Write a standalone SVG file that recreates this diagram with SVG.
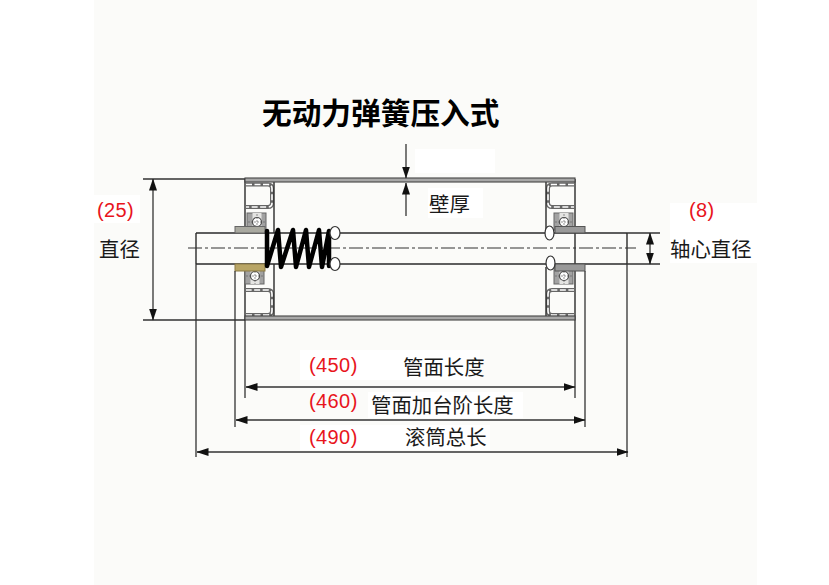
<svg xmlns="http://www.w3.org/2000/svg" xmlns:xlink="http://www.w3.org/1999/xlink" width="829" height="585" viewBox="0 0 829 585">
<style>
.ln{fill:none;stroke:#2b2b2b;stroke-width:1.4}
.tube{fill:#a8a8a8;stroke:#444;stroke-width:1.1}
.wall{fill:none;stroke:#666;stroke-width:4}
.hatch{fill:none;stroke:#fff;stroke-width:1.6;stroke-dasharray:6 2.500}
.cl{fill:none;stroke:#333;stroke-width:1.1;stroke-dasharray:14 3 3 3}
.dim{fill:none;stroke:#333;stroke-width:1.3}
.t{font-family:"Noto Sans CJK SC","Liberation Sans",sans-serif;font-size:20.400px;fill:#1a1a1a}
.r{font-family:"Liberation Sans","Noto Sans CJK SC",sans-serif;font-size:20px;fill:#e8141c;letter-spacing:.4px}
.b{font-family:"Noto Sans CJK SC",sans-serif;font-size:29.700px;font-weight:700;fill:#000}
.spring{fill:none;stroke:#000;stroke-width:4.500;stroke-linecap:round;stroke-linejoin:round}
</style>
<defs>
<marker id="ah" viewBox="0 0 12 8" refX="11.500" refY="4" markerWidth="12" markerHeight="8" markerUnits="userSpaceOnUse" orient="auto-start-reverse"><path d="M0 0L12 4L0 8z" fill="#111"/></marker>
<g id="bearing">
<rect x="-10" y="-9" width="19" height="17" fill="#a2a2a2" stroke="#666"/>
<rect x="-4.500" y="-9" width="9" height="17" fill="#e4e4e2"/>
<circle r="4.500" fill="#fff" stroke="#444" stroke-width="1.200"/>
<path d="M-9 0H9M0 -8V8" stroke="#666" stroke-width=".7" stroke-dasharray="2 1"/>
</g>
</defs>
<rect width="829" height="585" fill="#fff"/>
<rect x="94" y="0" width="663" height="585" fill="#fbfbf9"/>
<g id="label-patches" fill="#fff">
<rect x="415" y="149" width="80" height="24"/>
<rect x="428" y="188" width="55" height="30"/>
<rect x="94" y="195" width="46" height="28"/>
<rect x="670" y="203" width="87" height="60"/>
<rect x="300" y="350" width="180" height="30"/>
<rect x="368" y="392" width="155" height="26"/>
<rect x="300" y="425" width="190" height="25"/>
</g>
<g id="roller">
<path class="wall" d="M246 184.500H268Q272 184.500 272 188.500V203Q272 207 268 207H246"/>
<path class="hatch" d="M246 184.500H268Q272 184.500 272 188.500V203Q272 207 268 207H246"/>
<path class="wall" d="M246 315H268Q272 315 272 311V294Q272 290 268 290H246"/>
<path class="hatch" d="M246 315H268Q272 315 272 311V294Q272 290 268 290H246"/>
<path class="wall" d="M574 184.500H552Q548 184.500 548 188.500V203Q548 207 552 207H574"/>
<path class="hatch" d="M574 184.500H552Q548 184.500 548 188.500V203Q548 207 552 207H574"/>
<path class="wall" d="M574 315H552Q548 315 548 311V294Q548 290 552 290H574"/>
<path class="hatch" d="M574 315H552Q548 315 548 311V294Q548 290 552 290H574"/>
<path class="ln" d="M245 179V226M245 271V320M274 182V233M274 264V316M546 182V230M546 267V316M575 179V320"/>
<rect class="tube" x="245" y="178" width="330" height="4"/>
<rect class="tube" x="245" y="316" width="330" height="4"/>
</g>
<g id="bearings">
<use xlink:href="#bearing" href="#bearing" x="257" y="222"/>
<use xlink:href="#bearing" href="#bearing" x="255" y="276"/>
<use xlink:href="#bearing" href="#bearing" x="564" y="222"/>
<use xlink:href="#bearing" href="#bearing" x="564" y="276"/>
</g>
<g id="shaft">
<path class="ln" d="M196 233H627M196 264H627M196 233V264M627 233V264"/>
<path class="cl" d="M188 248H636"/>
<rect x="235" y="226.500" width="30" height="6.500" fill="#a9a9a0" stroke="#666"/>
<rect x="235" y="264" width="30" height="7" fill="#b8a566" stroke="#8b7a45"/>
<rect x="555" y="226.500" width="30" height="6.500" fill="#999" stroke="#555"/>
<rect x="555" y="264" width="30" height="7" fill="#999" stroke="#555"/>
</g>
<g id="spring">
<path class="spring" d="M267 231V266L278 230L281 267L293 230L296 267L306 230L309 267L319 230L322 267L329 231V266"/>
</g>
<g id="retainers" fill="#fff" stroke="#333" stroke-width="1.200">
<ellipse cx="335" cy="233" rx="5" ry="6.500"/>
<ellipse cx="335" cy="264" rx="5" ry="6.500"/>
<ellipse cx="549.500" cy="233" rx="4.500" ry="7"/>
<ellipse cx="550.500" cy="263" rx="4.500" ry="7"/>
</g>
<g id="connectors">
<path class="dim" d="M143 179H245M143 320H245"/>
<path class="dim" d="M153 179V320" marker-start="url(#ah)" marker-end="url(#ah)"/>
<path class="dim" d="M627 233H660M627 264H660"/>
<path class="dim" d="M650 233V264" marker-start="url(#ah)" marker-end="url(#ah)"/>
<path class="dim" d="M406 144V178" marker-end="url(#ah)"/>
<path class="dim" d="M406 216V183" marker-end="url(#ah)"/>
<path class="dim" d="M196 264V457M235 271V427M245 320V398M575 320V398M585 271V427M627 264V457"/>
<path class="dim" d="M246 387H575" marker-start="url(#ah)" marker-end="url(#ah)"/>
<path class="dim" d="M236 420H585" marker-start="url(#ah)" marker-end="url(#ah)"/>
<path class="dim" d="M197 452H628" marker-start="url(#ah)" marker-end="url(#ah)"/>
</g>
<g id="labels">
<text class="b" x="262" y="124">无动力弹簧压入式</text>
<text class="t" x="429" y="212">壁厚</text>
<text class="t" x="99" y="257">直径</text>
<text class="t" x="670" y="257">轴心直径</text>
<text class="t" x="403" y="375">管面长度</text>
<text class="t" x="371" y="413">管面加台阶长度</text>
<text class="t" x="405" y="445">滚筒总长</text>
<text class="r" x="97" y="217">(25)</text>
<text class="r" x="689" y="217">(8)</text>
<text class="r" x="309" y="372">(450)</text>
<text class="r" x="309" y="408">(460)</text>
<text class="r" x="309" y="444">(490)</text>
</g>
</svg>
